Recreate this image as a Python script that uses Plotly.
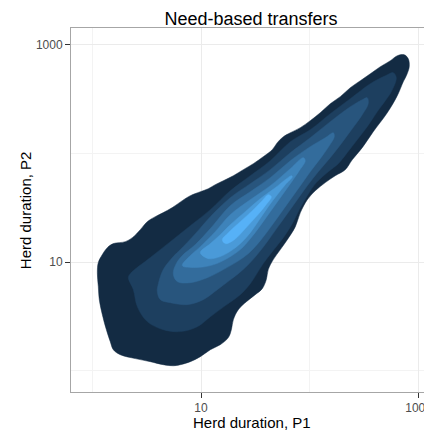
import numpy as np
import plotly.graph_objects as go

# Density contour polygons as log10(Herd duration) values.
# Level 1 = outermost (lowest density) ... level 7 = innermost (highest density).
lvl1_log_p1 = [0.047, 0.056, 0.093, 0.139, 0.194, 0.304, 0.369, 0.442, 0.506, 0.580, 0.653, 0.736, 0.828, 0.902,
               0.994, 1.067, 1.131, 1.205, 1.297, 1.389, 1.481, 1.572, 1.655, 1.701, 1.757, 1.821, 1.913, 2.004,
               2.096, 2.188, 2.280, 2.372, 2.464, 2.556, 2.648, 2.740, 2.804, 2.868, 2.905, 2.914, 2.887, 2.859,
               2.804, 2.712, 2.583, 2.482, 2.390, 2.326, 2.234, 2.142, 2.050, 1.977, 1.913, 1.867, 1.793, 1.729,
               1.664, 1.618, 1.600, 1.563, 1.499, 1.417, 1.343, 1.297, 1.279, 1.251, 1.177, 1.086, 0.994, 0.902,
               0.810, 0.745, 0.653, 0.534, 0.396, 0.258, 0.194, 0.166, 0.130, 0.093, 0.065, 0.056]
lvl1_log_p2 = [0.902, 0.995, 1.068, 1.132, 1.169, 1.187, 1.224, 1.297, 1.371, 1.417, 1.454, 1.500, 1.564, 1.610,
               1.646, 1.674, 1.711, 1.747, 1.793, 1.849, 1.904, 1.968, 2.032, 2.097, 2.152, 2.188, 2.235, 2.299,
               2.372, 2.455, 2.520, 2.602, 2.666, 2.730, 2.795, 2.850, 2.896, 2.905, 2.868, 2.795, 2.712, 2.657,
               2.529, 2.372, 2.198, 2.051, 1.940, 1.849, 1.793, 1.730, 1.655, 1.573, 1.454, 1.325, 1.205, 1.114,
               1.022, 0.930, 0.838, 0.755, 0.700, 0.635, 0.562, 0.470, 0.378, 0.305, 0.240, 0.194, 0.130, 0.084,
               0.056, 0.046, 0.056, 0.084, 0.112, 0.148, 0.194, 0.268, 0.378, 0.516, 0.654, 0.774]

lvl2_log_p1 = [0.332, 0.350, 0.534, 0.718, 0.902, 1.086, 1.269, 1.453, 1.637, 1.821, 2.004, 2.188, 2.372, 2.556,
               2.694, 2.767, 2.795, 2.749, 2.694, 2.620, 2.528, 2.436, 2.344, 2.262, 2.170, 2.060, 1.977, 1.903,
               1.839, 1.757, 1.655, 1.572, 1.508, 1.453, 1.361, 1.224, 1.086, 0.966, 0.810, 0.653, 0.506, 0.415,
               0.378]
lvl2_log_p2 = [0.856, 0.893, 1.041, 1.187, 1.334, 1.481, 1.655, 1.793, 1.931, 2.106, 2.216, 2.363, 2.501, 2.639,
               2.712, 2.740, 2.694, 2.565, 2.483, 2.382, 2.244, 2.124, 2.005, 1.904, 1.830, 1.730, 1.610, 1.481,
               1.352, 1.224, 1.095, 0.986, 0.884, 0.801, 0.700, 0.599, 0.497, 0.405, 0.360, 0.378, 0.452, 0.589,
               0.746]

lvl3_log_p1 = [0.598, 0.608, 0.653, 0.745, 0.810, 0.948, 1.086, 1.269, 1.453, 1.637, 1.821, 2.004, 2.188, 2.372,
               2.482, 2.528, 2.537, 2.482, 2.390, 2.289, 2.188, 2.078, 1.977, 1.885, 1.793, 1.701, 1.609, 1.517,
               1.426, 1.343, 1.260, 1.150, 1.021, 0.874, 0.718, 0.626]
lvl3_log_p2 = [0.727, 0.801, 0.930, 1.050, 1.114, 1.260, 1.417, 1.591, 1.720, 1.849, 2.005, 2.142, 2.290, 2.427,
               2.492, 2.510, 2.455, 2.354, 2.225, 2.088, 1.959, 1.830, 1.701, 1.573, 1.444, 1.316, 1.187, 1.068,
               0.967, 0.893, 0.829, 0.746, 0.654, 0.608, 0.626, 0.654]

lvl4_log_p1 = [0.745, 0.773, 0.828, 0.948, 1.086, 1.269, 1.453, 1.637, 1.821, 2.004, 2.142, 2.216, 2.225, 2.179,
               2.096, 2.004, 1.913, 1.821, 1.729, 1.637, 1.545, 1.453, 1.361, 1.205, 1.058, 0.902, 0.782]
lvl4_log_p2 = [0.893, 0.986, 1.059, 1.160, 1.307, 1.518, 1.646, 1.775, 1.931, 2.060, 2.142, 2.188, 2.152, 2.069,
               1.950, 1.830, 1.701, 1.573, 1.444, 1.316, 1.196, 1.095, 1.022, 0.930, 0.856, 0.810, 0.820]

lvl5_log_p1 = [0.828, 0.902, 0.994, 1.131, 1.269, 1.453, 1.637, 1.821, 1.940, 1.958, 1.903, 1.821, 1.729, 1.637,
               1.545, 1.453, 1.361, 1.205, 1.086, 0.948]
lvl5_log_p2 = [0.967, 1.059, 1.141, 1.279, 1.435, 1.573, 1.701, 1.858, 1.959, 1.931, 1.839, 1.720, 1.591, 1.463,
               1.334, 1.214, 1.114, 1.013, 0.967, 0.949]

lvl6_log_p1 = [0.994, 1.086, 1.177, 1.269, 1.407, 1.545, 1.683, 1.775, 1.830, 1.839, 1.775, 1.701, 1.618, 1.536,
               1.453, 1.370, 1.279, 1.177, 1.067]
lvl6_log_p2 = [1.086, 1.169, 1.251, 1.343, 1.463, 1.582, 1.683, 1.757, 1.793, 1.784, 1.711, 1.619, 1.509, 1.389,
               1.270, 1.178, 1.105, 1.050, 1.031]

lvl7_log_p1 = [1.196, 1.251, 1.361, 1.472, 1.563, 1.618, 1.646, 1.591, 1.499, 1.407, 1.306, 1.224]
lvl7_log_p2 = [1.205, 1.270, 1.371, 1.472, 1.564, 1.619, 1.600, 1.518, 1.408, 1.307, 1.205, 1.169]

level_fill = ["#132B43", "#1D3F5F", "#28557D", "#336C9C", "#3E83BA", "#4A9AD8", "#56B1F7"]

x_tick_vals = [10, 1000]
x_tick_text = ["10", "1000"]
y_tick_vals = [10, 1000]
y_tick_text = ["10", "1000"]
minor_grid_vals = [1, 100]

levels = [
    (lvl1_log_p1, lvl1_log_p2), (lvl2_log_p1, lvl2_log_p2), (lvl3_log_p1, lvl3_log_p2),
    (lvl4_log_p1, lvl4_log_p2), (lvl5_log_p1, lvl5_log_p2), (lvl6_log_p1, lvl6_log_p2),
    (lvl7_log_p1, lvl7_log_p2),
]

fig = go.Figure()
for (lx, ly), col in zip(levels, level_fill):
    xs = np.power(10.0, np.array(lx + lx[:1]))
    ys = np.power(10.0, np.array(ly + ly[:1]))
    fig.add_trace(go.Scatter(
        x=xs, y=ys, mode="lines", fill="toself", fillcolor=col,
        line=dict(color=col, width=0.5, shape="spline", smoothing=1.0),
        hoverinfo="skip", showlegend=False,
    ))

font_family = "Liberation Sans, Arial, sans-serif"
axis_common = dict(
    type="log",
    automargin=False,
    ticklabeloverflow="allow",
    ticks="outside", ticklen=5, tickwidth=1, tickcolor="#333333",
    tickfont=dict(size=12, color="#4D4D4D", family=font_family),
    showgrid=True, gridcolor="#EBEBEB", gridwidth=1,
    showline=True, linecolor="#A6A6A6", linewidth=1,
    zeroline=False,
    minor=dict(tickvals=minor_grid_vals, showgrid=True, gridcolor="#F3F3F3", gridwidth=1, ticks=""),
)

# The page places the figure 8 px from the top-left corner of the window.
fig.update_layout(
    width=424, height=425,
    margin=dict(l=63, r=0, t=20, b=41),
    paper_bgcolor="white", plot_bgcolor="white",
    font=dict(family=font_family, color="black"),
    title=dict(text="Need-based transfers", x=0.573, xref="container", xanchor="center",
               y=1 - 11 / 425, yref="container", yanchor="middle",
               font=dict(size=18, color="black", family=font_family)),
    xaxis=dict(axis_common, range=[-0.195, 3.123], tickvals=x_tick_vals, ticktext=x_tick_text,
               mirror=True),
    yaxis=dict(axis_common, range=[-0.195, 3.151], tickvals=y_tick_vals, ticktext=y_tick_text,
               mirror=False),
    annotations=[
        dict(text="Herd duration, P1", xref="paper", yref="paper", x=0.5, y=-0.084,
             xanchor="center", yanchor="middle", showarrow=False,
             font=dict(size=15, color="black", family=font_family)),
        dict(text="Herd duration, P2", xref="paper", yref="paper", x=-0.127, y=0.5,
             xanchor="center", yanchor="middle", textangle=-90, showarrow=False,
             font=dict(size=15, color="black", family=font_family)),
    ],
)

fig.write_html("out.html")
